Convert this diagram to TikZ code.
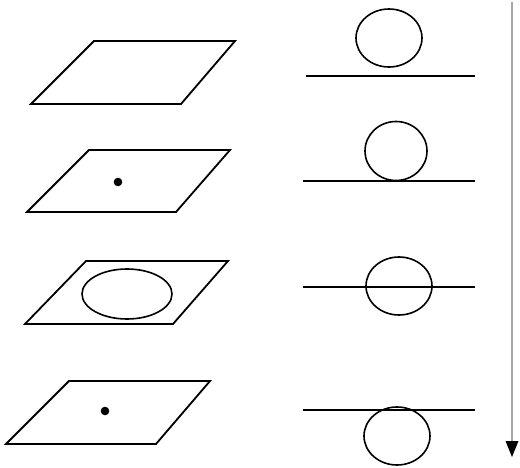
\documentclass[tikz,border=0pt]{standalone}
\begin{document}
\begin{tikzpicture}[x=1pt,y=-1pt,
  outline/.style={draw=black,line width=1.8pt,line join=miter},
  thin outline/.style={draw=black,line width=1.6pt},
  dotmark/.style={fill=black,draw=none},
  axis/.style={draw=black!35,line width=1.5pt}]
\useasboundingbox[fill=white] (0,0) rectangle (520,468);
% planes
\draw[outline] (94,41) -- (235,41) -- (181,104) -- (31,104) -- cycle;
\draw[outline] (89,150) -- (230,150) -- (176,212) -- (27,212) -- cycle;
\fill[dotmark] (118,182) circle [radius=4.3];
\draw[outline] (86,261) -- (228,261) -- (173,324) -- (25,324) -- cycle;
\draw[thin outline] (127,294) ellipse [x radius=45, y radius=25];
\draw[outline] (69,381) -- (210,381) -- (156,444) -- (6,444) -- cycle;
\fill[dotmark] (105,411) circle [radius=4.3];
% sections
\draw[outline] (306,75.7) -- (475,75.7);
\draw[thin outline] (389,38) ellipse [x radius=33, y radius=29];
\draw[outline] (303,180.8) -- (475,180.8);
\draw[thin outline] (396,151) ellipse [x radius=31, y radius=29.5];
\draw[outline] (303,286.8) -- (475,286.8);
\draw[thin outline] (399,286) ellipse [x radius=33, y radius=29];
\draw[outline] (303,410) -- (475,410);
\draw[thin outline] (397,436) ellipse [x radius=33, y radius=29];
% time axis
\coordinate (axistop) at (512,2);
\coordinate (axisend) at (512,443);
\draw[axis] (axistop) -- (axisend);
\fill[black] (505.5,441) -- (518.5,441) -- (512,457) -- cycle;
\end{tikzpicture}
\end{document}
